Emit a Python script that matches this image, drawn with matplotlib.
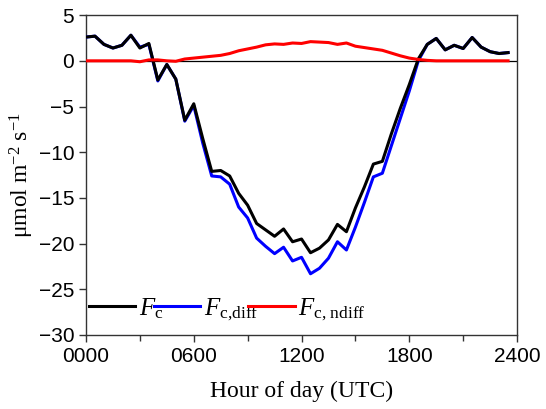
import numpy as np
import matplotlib
matplotlib.use("Agg")
from matplotlib import pyplot as plt
from matplotlib.ticker import MultipleLocator

# half-hourly diurnal course, hour 0.0 .. 23.5
hours = np.arange(48) * 0.5

fc = [2.6, 2.7, 1.8, 1.4, 1.7, 2.8, 1.4, 1.9, -2.1, -0.4,
      -2.0, -6.5, -4.7, -8.5, -12.1, -12.0, -12.6, -14.5, -15.8, -17.8,
      -18.5, -19.2, -18.4, -19.8, -19.5, -21.0, -20.5, -19.6, -17.9, -18.7,
      -16.1, -13.8, -11.3, -11.0, -8.0, -5.2, -2.6, 0.2, 1.8, 2.45,
      1.2, 1.7, 1.35, 2.55, 1.5, 1.0, 0.8, 0.9]

fc_diff = [2.6, 2.7, 1.8, 1.4, 1.7, 2.8, 1.5, 1.8, -2.2, -0.4,
           -2.0, -6.6, -4.9, -9.0, -12.6, -12.7, -13.5, -16.0, -17.2, -19.4,
           -20.3, -21.1, -20.4, -21.9, -21.5, -23.3, -22.7, -21.6, -19.8, -20.7,
           -18.2, -15.5, -12.7, -12.3, -9.3, -6.3, -3.3, 0.0, 1.8, 2.45,
           1.2, 1.7, 1.35, 2.55, 1.5, 1.0, 0.8, 0.9]

fc_ndiff = [0.0, 0.0, 0.0, 0.0, 0.0, 0.0, -0.1, 0.1, 0.1, 0.0,
            -0.05, 0.2, 0.3, 0.4, 0.5, 0.6, 0.8, 1.1, 1.3, 1.5,
            1.75, 1.85, 1.8, 1.95, 1.9, 2.1, 2.05, 2.0, 1.8, 1.95,
            1.6, 1.45, 1.3, 1.15, 0.85, 0.55, 0.3, 0.15, 0.05, 0.0,
            0.0, 0.0, 0.0, 0.0, 0.0, 0.0, 0.0, 0.0]

xticks = [0, 6, 12, 18, 24]
xtick_labels = ["0000", "0600", "1200", "1800", "2400"]

plt.rcParams["font.family"] = "Liberation Sans"
plt.rcParams["mathtext.fontset"] = "custom"
plt.rcParams["mathtext.rm"] = "Liberation Serif"
plt.rcParams["mathtext.it"] = "Liberation Serif:italic"

fig = plt.figure(figsize=(5.46, 4.09), dpi=100)
ax = fig.add_axes([0.1575, 0.181, 0.7895, 0.782])

ax.axhline(0, color="black", lw=0.9, zorder=1)
ax.plot(hours, fc_diff, color="#0000ff", lw=2.2, label=r"$F_{\mathrm{c{,}diff}}$", zorder=3)
ax.plot(hours, fc, color="black", lw=2.2, label=r"$F_{\mathrm{c}}$", zorder=4)
ax.plot(hours, fc_ndiff, color="#ff0000", lw=2.2, label=r"$F_{\mathrm{c{,}\ ndiff}}$", zorder=5)

ax.set_xlim(0, 24)
ax.set_ylim(-30, 5)
ax.set_xticks(xticks)
ax.set_xticklabels(xtick_labels)
ax.xaxis.set_minor_locator(MultipleLocator(3))
ax.yaxis.set_major_locator(MultipleLocator(5))
ax.tick_params(which="major", direction="out", length=5, width=1, labelsize=15, color="#333333")
ax.tick_params(which="minor", direction="out", length=4, width=1, color="#333333")
ax.tick_params(axis="x", pad=4)
for s in ax.spines.values():
    s.set_color("#333333")
    s.set_linewidth(1.0)

ax.set_xlabel("Hour of day (UTC)", family="Liberation Serif", fontsize=17, labelpad=10)
ax.set_ylabel(r"μmol m$^{\mathrm{-2}}$ s$^{\mathrm{-1}}$", family="Liberation Serif", fontsize=17, labelpad=2)

h, l = ax.get_legend_handles_labels()
order = [1, 0, 2]
ax.legend([h[i] for i in order], [l[i] for i in order], loc="lower left", ncol=3,
          frameon=False, fontsize=18, handlelength=1.85, handletextpad=0.15,
          columnspacing=-0.4, bbox_to_anchor=(-0.028, -0.01), borderaxespad=0.2)

fig.savefig("out.png", dpi=100)
